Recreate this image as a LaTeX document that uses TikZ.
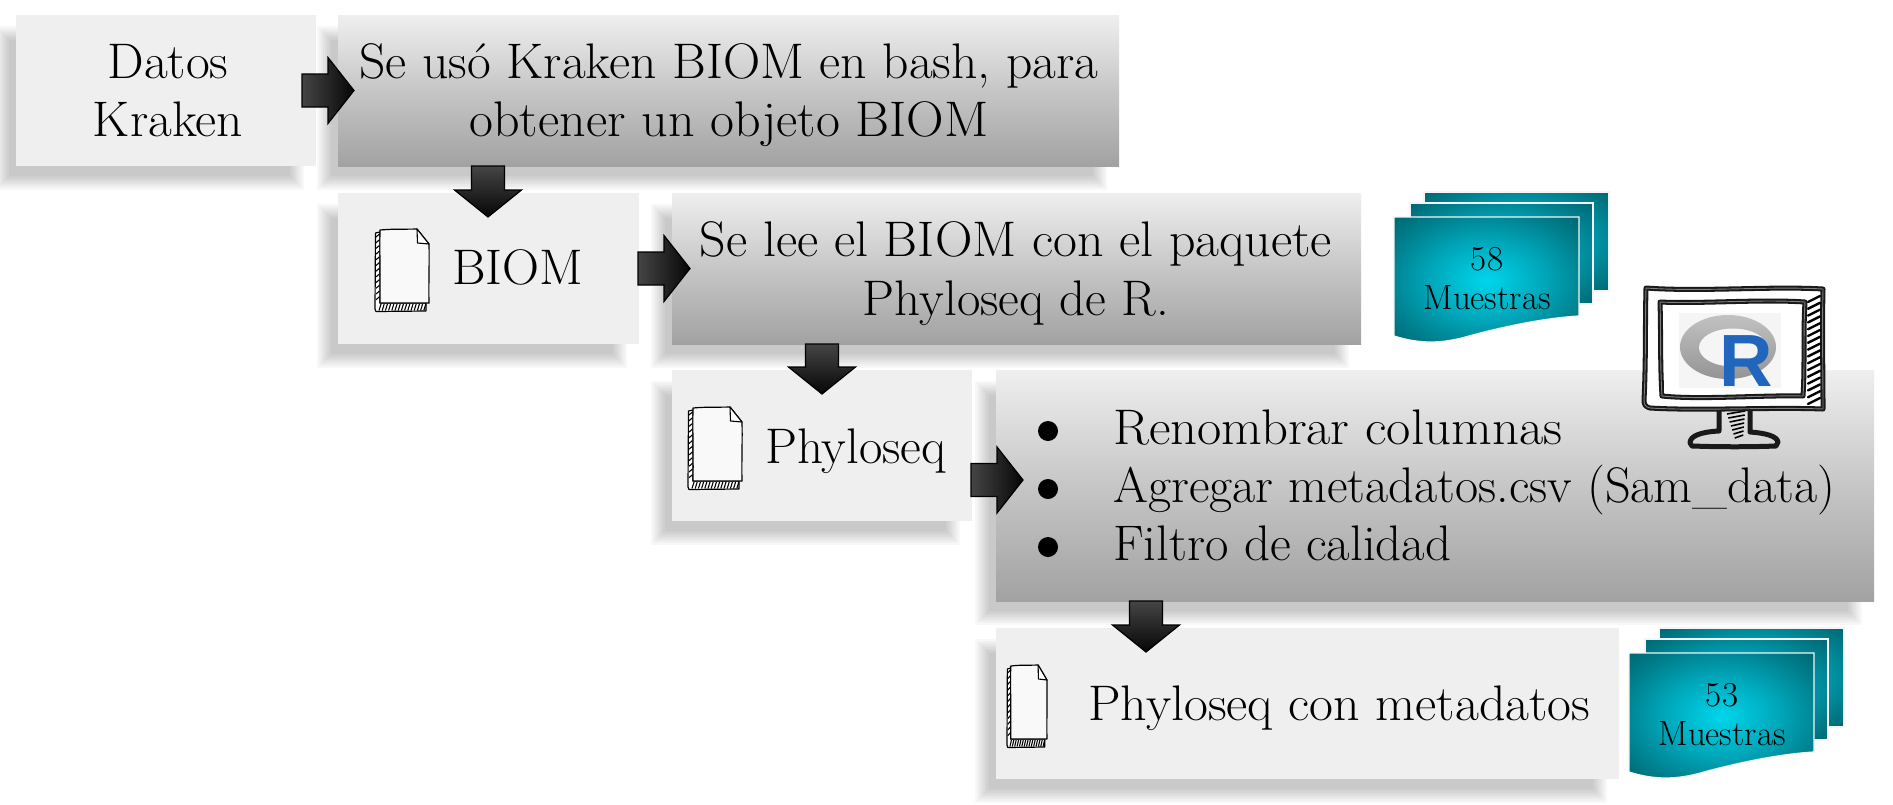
\documentclass[tikz,border=0pt]{standalone}
\usepackage{fontspec}
\usepackage{graphicx}
\newfontfamily\rfont{Liberation Sans}
\usetikzlibrary{calc}
\definecolor{tA}{HTML}{00D6EC}
\definecolor{tB}{HTML}{00A5B8}
\definecolor{tC}{HTML}{00808E}
\definecolor{tD}{HTML}{005F6B}
\pgfdeclareradialshading{tealrad}{\pgfpoint{0bp}{0bp}}{color(0bp)=(tA); color(16bp)=(tB); color(27bp)=(tC); color(38bp)=(tD); color(50bp)=(tD)}
\definecolor{boxgray}{HTML}{EFEFEF}
\definecolor{gradtop}{HTML}{EFEFEF}
\definecolor{gradmid}{HTML}{C6C6C6}
\definecolor{gradbot}{HTML}{A2A2A2}
\definecolor{arrowlight}{HTML}{454545}
\definecolor{arrowdark}{HTML}{060606}
\definecolor{rblue}{HTML}{2066BC}
\tikzset{
  plainbox/.style={rectangle,inner sep=0pt,outer sep=0pt,anchor=north west,fill=boxgray},
  gradbox/.style={rectangle,inner sep=0pt,outer sep=0pt,anchor=north west,top color=gradtop,bottom color=gradbot,middle color=gradmid},
  big/.style={inner sep=0pt,anchor=base,font=\fontsize{50}{58}\selectfont},
  bigl/.style={big,anchor=base west},
  small/.style={inner sep=0pt,anchor=base,font=\fontsize{35}{40}\selectfont},
  harrow/.style={draw=black,line width=1.2pt,left color=arrowlight,right color=arrowdark},
  varrow/.style={draw=black,line width=1.2pt,top color=arrowlight,bottom color=arrowdark},
  sheet/.style={draw=white!92!gray,line width=1.3pt,shading=tealrad},
  sketch/.style={draw=black!90,line width=5pt,line join=round,line cap=round},
  sketchin/.style={draw=black!50,line width=0.9pt,line join=round,line cap=round},
  hatchline/.style={draw=black,line width=1.5pt,line cap=round},
  bulletdot/.style={circle,fill=black,inner sep=0pt,minimum size=20pt},
}
% shadow: offset from the box, soft edge
\newcommand{\softshadow}[4]{%
  \foreach \e in {7,5,3,1,-1,-3,-5,-7}{%
    \fill[black,opacity=0.028] (#1-14-\e,#2+18-\e) rectangle (#3-19+\e,#4+17+\e);
  }}
\newcommand{\shbox}[6]{% style,name,x1,y1,x2,y2
  \softshadow{#3}{#4}{#5}{#6}
  \pgfmathsetmacro{\bw}{#5-#3}\pgfmathsetmacro{\bh}{#6-#4}
  \node[#1,minimum width=\bw pt,minimum height=\bh pt] (#2) at (#3,#4) {};}
% right arrow: from, to, tail offset, tip offset, vertical offset
\newcommand{\rarrow}[5]{%
  \draw[harrow] let \p1=(#1.east),\p2=(#2.west) in
    (\x1+#3pt,\y2+#5pt+16.5pt) -- (\x2+#4pt-26pt,\y2+#5pt+16.5pt) -- (\x2+#4pt-26pt,\y2+#5pt+33pt)
    -- (\x2+#4pt,\y2+#5pt) -- (\x2+#4pt-26pt,\y2+#5pt-33pt) -- (\x2+#4pt-26pt,\y2+#5pt-16.5pt)
    -- (\x1+#3pt,\y2+#5pt-16.5pt) -- cycle;}
% down arrow: from, to
\newcommand{\darrow}[2]{%
  \draw[varrow] let \p1=(#1.south),\p2=(#2.north west) in
    (\x2+150pt-16.5pt,\y1) -- (\x2+150pt+16.5pt,\y1) -- (\x2+150pt+16.5pt,\y2+3pt)
    -- (\x2+150pt+33.5pt,\y2+3pt) -- (\x2+150pt,\y2-24pt) -- (\x2+150pt-33.5pt,\y2+3pt)
    -- (\x2+150pt-16.5pt,\y2+3pt) -- cycle;}
% stacked documents
\newcommand{\stackdoc}[2]{%
 \begin{scope}[shift={(#1,#2)}]
  \draw[sheet] (30,-25) rectangle (215,74);
  \draw[sheet] (16,-14) rectangle (199,87);
  \draw[sheet] (0,0) -- (185,0) -- (185,99)
     .. controls (150,101) and (108,110) .. (75,119)
     .. controls (48,127) and (25,127) .. (0,119) -- cycle;
 \end{scope}}
% document icon
\newcommand{\docicon}[3]{%
 \begin{scope}[shift={(#1,#2)},xscale=#3]
  \draw[black,line width=1.2pt,fill=white,line join=round] (5,3) -- (0.5,4) -- (0,80) -- (1,82.5) -- (51,82) -- (51,74) -- (5,74) -- cycle;
  \foreach \k in {0,...,11}{\draw[black,line width=1.1pt] (1,{8+\k*5.7}) -- (4.5,{5+\k*5.7});}
  \foreach \k in {0,...,14}{\draw[black,line width=1.1pt] ({4+\k*3.2},81.5) -- ({6+\k*3.2},75);}
  \draw[black,line width=1.2pt,fill=boxgray!40!white,line join=round] (5,1) .. controls (20,-0.3) and (30,0.4) .. (42,0) -- (54,15) .. controls (54.5,35) and (53.5,55) .. (54,74) -- (5,74) .. controls (5.5,50) and (4.5,25) .. (5,1) -- cycle;
  \draw[black,line width=1.1pt,fill=white,line join=round] (42,0) -- (42.5,14) -- (54,15) -- cycle;
 \end{scope}}
\begin{document}
\begin{tikzpicture}[x=1pt,y=-1pt]
\useasboundingbox (0,0) rectangle (1893,804);
\fill[white] (0,0) rectangle (1893,804);

\shbox{plainbox}{a}{16}{15}{316}{166}
\shbox{gradbox}{b}{338}{15}{1119}{166}
\shbox{plainbox}{c}{338}{193}{639}{344}
\shbox{gradbox}{d}{672}{193}{1361}{344}
\shbox{plainbox}{e}{672}{370}{972}{521}
\shbox{gradbox}{f}{996}{370}{1874}{601}
\shbox{plainbox}{g}{996}{628}{1619}{779}

% texts
\node[big] (ta1) at (168,78) {\resizebox{121pt}{\height}{Datos}};
\node[big] (ta2) at (168,136) {\resizebox{150pt}{\height}{Kraken}};
\node[big] (tb1) at (729,78) {\resizebox{739pt}{\height}{Se usó Kraken BIOM en bash, para}};
\node[big] (tb2) at (729,136) {\resizebox{519pt}{\height}{obtener un objeto BIOM}};
\node[bigl] (tc) at (452,284) {\resizebox{131pt}{\height}{BIOM}};
\node[big] (td1) at (1016,256) {\resizebox{632pt}{\height}{Se lee el BIOM con el paquete}};
\node[big] (td2) at (1016,315) {\resizebox{306pt}{\height}{Phyloseq de R.}};
\node[bigl] (te) at (765,463) {\resizebox{181pt}{\height}{Phyloseq}};
\node[bigl] (tf1) at (1113,444) {\resizebox{449pt}{\height}{Renombrar columnas}};
\node[bigl] (tf2) at (1113,502) {\resizebox{722pt}{\height}{Agregar metadatos.csv (Sam\_data)}};
\node[bigl] (tf3) at (1113,560) {\resizebox{338pt}{\height}{Filtro de calidad}};
\node[bigl] (tg) at (1088,720) {\resizebox{502pt}{\height}{Phyloseq con metadatos}};
\node[bulletdot] (b1) at (1048,431) {};
\node[bulletdot] (b2) at (1048,489) {};
\node[bulletdot] (b3) at (1048,547) {};

% icons
\docicon{375}{229}{1}
\docicon{688}{407}{1}
\docicon{1007}{665}{0.74}

% sample stacks
\stackdoc{1394}{217}
\node[small] (n1) at (1487,270) {58};
\node[small] (m1) at (1487,309) {\resizebox{127pt}{\height}{Muestras}};
\stackdoc{1629}{653}
\node[small] (n2) at (1722,706) {53};
\node[small] (m2) at (1722,745) {\resizebox{127pt}{\height}{Muestras}};

% monitor
\fill[white] (1645,288) rectangle (1823,410);
\draw[sketch] (1719,411) -- (1719,431) .. controls (1700,432) and (1690,436) .. (1690,443) -- (1692,446) .. controls (1720,447) and (1750,447) .. (1776,446) -- (1778,442) .. controls (1777,436) and (1765,433) .. (1750,432) -- (1750,411);
\foreach \k in {0,...,6}{\draw[black,line width=1.6pt] ({1727+\k*1.3},{414+\k*4}) -- ({1745-\k*0.3},{411+\k*4});}
\draw[sketch] (1646,288) .. controls (1700,292) and (1770,286) .. (1823,289) .. controls (1822,330) and (1823,370) .. (1823,409)
   .. controls (1770,407) and (1700,411) .. (1650,408) .. controls (1645,407) and (1644,404) .. (1644,400) .. controls (1646,360) and (1645,325) .. (1646,288) -- cycle;
\draw[sketch] (1660,302) .. controls (1700,304) and (1760,299) .. (1805,302) .. controls (1803,335) and (1805,365) .. (1803,396)
   .. controls (1760,395) and (1700,400) .. (1662,396) .. controls (1660,365) and (1661,335) .. (1660,302) -- cycle;
\draw[sketchin] (1646,288) .. controls (1700,292) and (1770,286) .. (1823,289) .. controls (1822,330) and (1823,370) .. (1823,409)
   .. controls (1770,407) and (1700,411) .. (1650,408) .. controls (1645,407) and (1644,404) .. (1644,400) .. controls (1646,360) and (1645,325) .. (1646,288) -- cycle;
\draw[sketchin] (1660,302) .. controls (1700,304) and (1760,299) .. (1805,302) .. controls (1803,335) and (1805,365) .. (1803,396)
   .. controls (1760,395) and (1700,400) .. (1662,396) .. controls (1660,365) and (1661,335) .. (1660,302) -- cycle;
\foreach \k in {0,...,15}{\draw[hatchline,line width=2.4pt] (1808,{302+\k*6.8}) -- (1820,{296+\k*6.8});}
% R logo
\fill[white] (1664,305) rectangle (1800,393);
\fill[black!4] (1679,313) rectangle (1781,388);
\shade[top color=black!24,bottom color=black!42] (1728,347) ellipse [x radius=48,y radius=32];
\fill[black!4] (1733,347.5) ellipse [x radius=34,y radius=19];
\node[inner sep=0pt,anchor=base,text=rblue,font=\rfont\bfseries\fontsize{74}{74}\selectfont] (rlogo) at (1746,386) {R};

% connectors
\rarrow{a}{b}{-14}{16}{0}
\darrow{b}{c}
\rarrow{c}{d}{-1}{18}{0}
\darrow{d}{e}
\rarrow{e}{f}{-1}{27}{5.5}
\darrow{f}{g}
\end{tikzpicture}
\end{document}
